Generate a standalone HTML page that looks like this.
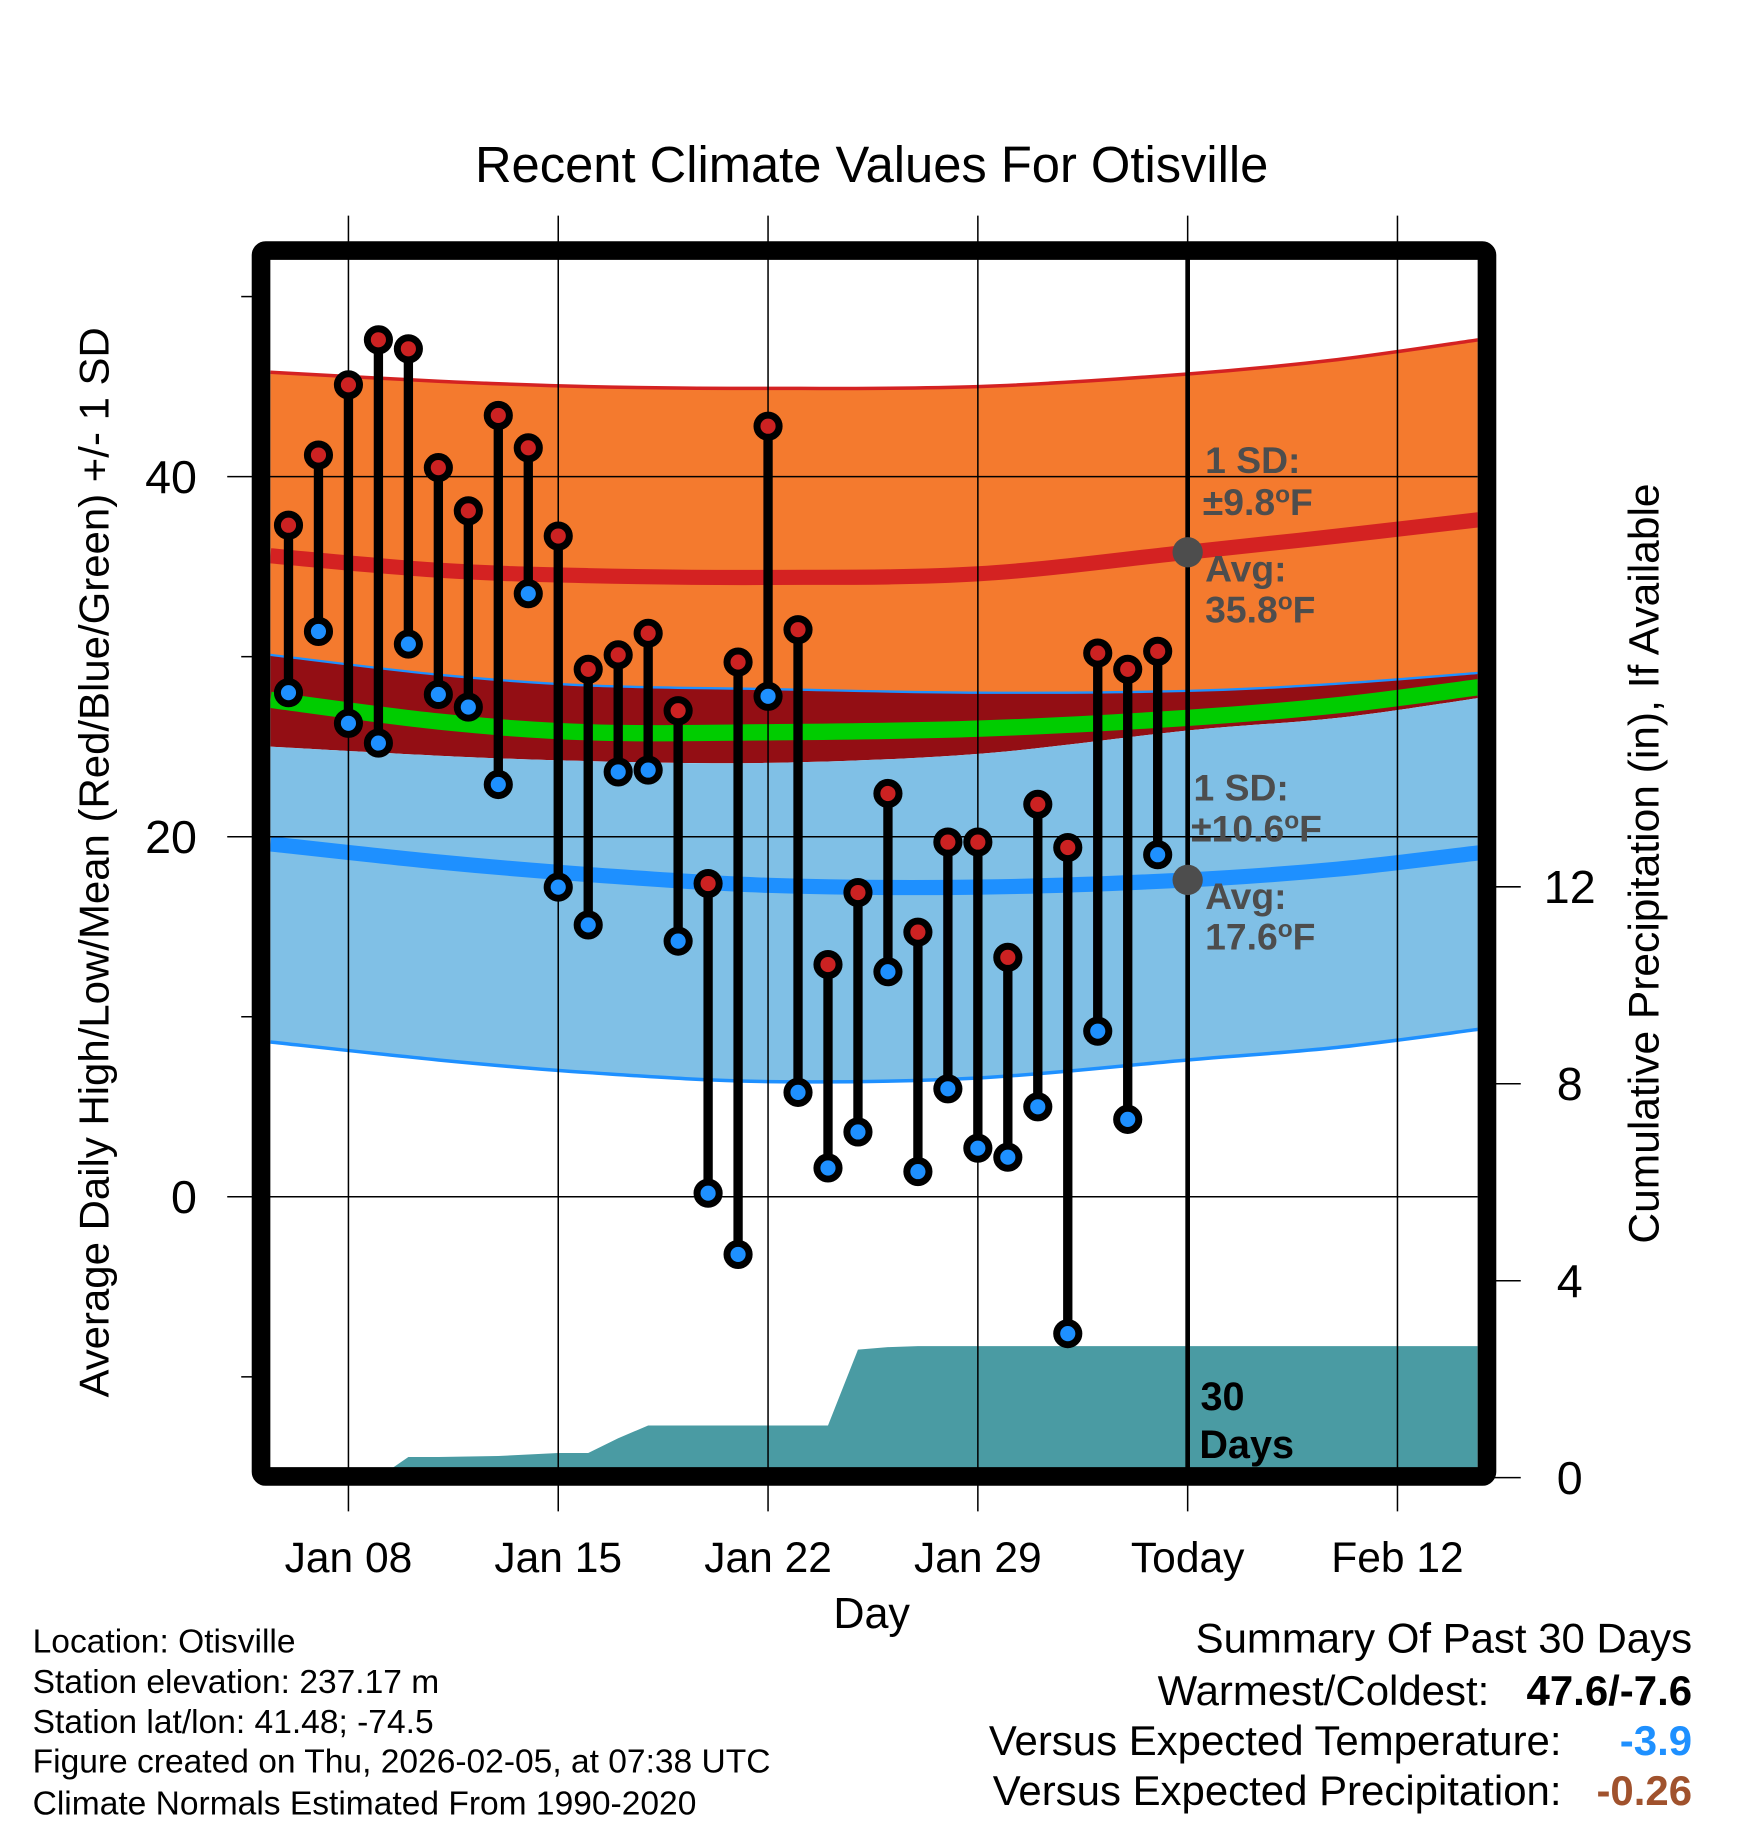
<!DOCTYPE html>
<html><head><meta charset="utf-8"><style>
html,body{margin:0;padding:0;background:#fff;}
svg{display:block;font-family:"Liberation Sans",Arial,sans-serif;}
</style></head><body>
<svg id="chart" width="1748" height="1828" viewBox="0 0 1500 1568.65" xmlns="http://www.w3.org/2000/svg">
<defs><clipPath id="plotclip"><rect x="232" y="222" width="1036" height="1038"/></clipPath></defs>
<rect x="0" y="0" width="1500" height="1569" fill="#fff"/>
<text x="748" y="156" font-size="43.5" text-anchor="middle">Recent Climate Values For Otisville</text>
<g id="bands" clip-path="url(#plotclip)"></g>
<g id="grid"></g>
<g id="marks" clip-path="url(#plotclip)"></g>
<rect x="224" y="215" width="1052" height="1052" fill="none" stroke="#000" stroke-width="16" rx="4"/>
<g id="axes"></g>
<text transform="translate(93,740) rotate(-90)" font-size="36" text-anchor="middle">Average Daily High/Low/Mean (Red/Blue/Green) +/- 1 SD</text>
<text transform="translate(1423,741) rotate(-90)" font-size="36.5" text-anchor="middle">Cumulative Precipitation (in), If Available</text>
<text x="748" y="1397" font-size="37" text-anchor="middle">Day</text>
<g font-size="28.8">
<text x="28" y="1418">Location: Otisville</text>
<text x="28" y="1453">Station elevation: 237.17 m</text>
<text x="28" y="1487">Station lat/lon: 41.48; -74.5</text>
<text x="28" y="1521">Figure created on Thu, 2026-02-05, at 07:38 UTC</text>
<text x="28" y="1557">Climate Normals Estimated From 1990-2020</text>
</g>
<g font-size="36">
<text x="1452" y="1418" text-anchor="end">Summary Of Past 30 Days</text>
<text x="1278" y="1463" text-anchor="end">Warmest/Coldest:</text>
<text x="1452" y="1463" text-anchor="end" font-weight="bold">47.6/-7.6</text>
<text x="1340" y="1506" text-anchor="end">Versus Expected Temperature:</text>
<text x="1452" y="1506" text-anchor="end" font-weight="bold" fill="#1e90ff">-3.9</text>
<text x="1340" y="1549" text-anchor="end">Versus Expected Precipitation:</text>
<text x="1452" y="1549" text-anchor="end" font-weight="bold" fill="#a0522d">-0.26</text>
</g>
</svg>
<script>
// days counted from Jan 08 (= 0)
const dayIdx = [-2,-1,0,1,2,3,4,5,6,7,8,9,10,11,12,13,14,15,16,17,18,19,20,21,22,23,24,25,26,27];
const highs = [37.3,41.2,45.1,47.6,47.1,40.5,38.1,43.4,41.6,36.7,29.3,30.1,31.3,27.0,17.4,29.7,42.8,31.5,12.9,16.9,22.4,14.7,19.7,19.7,13.3,21.8,19.4,30.2,29.3,30.3];
const lows = [28.0,31.4,26.3,25.2,30.7,27.9,27.2,22.9,33.5,17.2,15.1,23.6,23.7,14.2,0.2,-3.2,27.8,5.8,1.6,3.6,12.5,1.4,6.0,2.7,2.2,5.0,-7.6,9.2,4.3,19.0];
const precip = [0,0,0,0,0.42,0.42,0.43,0.44,0.47,0.5,0.5,0.8,1.06,1.06,1.06,1.06,1.06,1.06,1.06,2.6,2.65,2.67,2.67,2.67,2.67,2.67,2.67,2.67,2.67,2.67];
const normDays = [-2.6,3,8,14,21,28,33,37.7];
const highTop = [45.8,45.3,45.0,44.9,45.0,45.7,46.5,47.6];
const highAvg = [35.6,34.8,34.5,34.4,34.6,35.8,36.7,37.6];
const highBot = [30.1,29.0,28.4,28.2,28.0,28.1,28.5,29.1];
const meanAvg = [27.6,26.4,25.8,25.8,26.0,26.6,27.3,28.3];
const lowTop = [25.0,24.5,24.2,24.1,24.6,25.9,26.6,27.7];
const lowAvg = [19.6,18.6,17.9,17.3,17.2,17.6,18.2,19.1];
const lowBot = [8.6,7.6,6.9,6.4,6.6,7.6,8.3,9.3];
const xTickDays = [0,7,14,21,28,35];
const xTickLabels = ["Jan 08","Jan 15","Jan 22","Jan 29","Today","Feb 12"];
const yTicks = [40,20,0];
const yMinor = [50,30,10,-10];
const pTicks = [0,4,8,12];
const todayDay = 28;
const todayHighAvg = 35.8, todayLowAvg = 17.6;

const NS="http://www.w3.org/2000/svg";
const X = d => 299 + 25.72*d;
const Y = t => 1027 - 15.45*t;
const P = p => 1268 - 42.25*p;
function mk(tag, attrs, parent){const e=document.createElementNS(NS,tag);for(const k in attrs)e.setAttribute(k,attrs[k]);parent.appendChild(e);return e;}
const bands=document.getElementById('bands'), grid=document.getElementById('grid'), marks=document.getElementById('marks'), axes=document.getElementById('axes');

function curve(pts){
  let s='';
  for(let i=0;i<pts.length-1;i++){
    const p0=pts[Math.max(0,i-1)],p1=pts[i],p2=pts[i+1],p3=pts[Math.min(pts.length-1,i+2)];
    s+=' C'+(p1[0]+(p2[0]-p0[0])/6)+','+(p1[1]+(p2[1]-p0[1])/6)+' '+(p2[0]-(p3[0]-p1[0])/6)+','+(p2[1]-(p3[1]-p1[1])/6)+' '+p2[0]+','+p2[1];
  }
  return s;
}
function smooth(vals){
  const pts=normDays.map((d,i)=>[X(d),Y(vals[i])]);
  return 'M'+pts[0][0]+','+pts[0][1]+curve(pts);
}
function band(top,bot,fill,name){
  const rv=normDays.slice().reverse();
  const bv=bot.slice().reverse();
  const pts=rv.map((d,i)=>[X(d),Y(bv[i])]);
  const s=smooth(top)+' L'+pts[0][0]+','+pts[0][1]+curve(pts);
  const e=mk('path',{d:s+'Z',fill:fill},bands);
  
  
}
function line(vals,color,w,name){
  const e=mk('path',{d:smooth(vals),fill:'none',stroke:color,'stroke-width':w},bands);
  
  
}
band(highTop,highBot,'#f47a2e','high-sd-band');
band(highBot,lowTop,'#930e14','overlap-band');
band(lowTop,lowBot,'#80c0e6','low-sd-band');
line(highTop,'#d42222',3,'high-sd-top-line');
line(highBot,'#1e90ff',2,'high-sd-bottom-line');
line(lowBot,'#1e90ff',3,'low-sd-bottom-line');
line(meanAvg,'#00cc00',14,'mean-line');
line(highAvg,'#d42222',13,'high-avg-line');
line(lowAvg,'#1e90ff',13,'low-avg-line');

// precipitation area
let pd='M232,'+P(0)+' L232,'+P(precip[0]);
dayIdx.forEach((d,i)=>{pd+=' L'+X(d)+','+P(precip[i]);});
pd+=' L1268,'+P(precip[precip.length-1])+' L1268,'+P(0)+'Z';
const pa=mk('path',{d:pd,fill:'#4a9ba3'},bands);



// grid
xTickDays.forEach((d,i)=>{
  const g=mk('line',{x1:X(d),x2:X(d),y1:185,y2:1297,stroke:'#000','stroke-width':1.3},grid);
  
  
  const t=mk('text',{x:X(d),y:1349,'font-size':36.5,'text-anchor':'middle'},axes);
  t.textContent=xTickLabels[i];
  
  
});
yTicks.forEach(v=>{
  const g=mk('line',{x1:195,x2:1268,y1:Y(v),y2:Y(v),stroke:'#000','stroke-width':1.3},grid);
  
  
  const t=mk('text',{x:169,y:Y(v)+14,'font-size':40,'text-anchor':'end'},axes);
  t.textContent=v;
  
  
});
yMinor.forEach(v=>{
  const g=mk('line',{x1:207,x2:220,y1:Y(v),y2:Y(v),stroke:'#000','stroke-width':1.3},axes);
  
  
});
pTicks.forEach(v=>{
  const g=mk('line',{x1:1280,x2:1305,y1:P(v),y2:P(v),stroke:'#000','stroke-width':1.3},axes);
  
  
  const t=mk('text',{x:1347,y:P(v)+14,'font-size':40,'text-anchor':'middle'},axes);
  t.textContent=v;
  
  
});

// today line
const tl=mk('line',{x1:X(todayDay),x2:X(todayDay),y1:222,y2:1262,stroke:'#000','stroke-width':4},marks);



// daily stems & dots
dayIdx.forEach((d,i)=>{
  const s=mk('line',{x1:X(d),x2:X(d),y1:Y(highs[i]),y2:Y(lows[i]),stroke:'#000','stroke-width':8},marks);
  
  
});
dayIdx.forEach((d,i)=>{
  const h=mk('circle',{cx:X(d),cy:Y(highs[i]),r:9.5,fill:'#cc2222',stroke:'#000','stroke-width':6},marks);
  
  
  const l=mk('circle',{cx:X(d),cy:Y(lows[i]),r:9.5,fill:'#1e90ff',stroke:'#000','stroke-width':6},marks);
  
  
});
[todayHighAvg,todayLowAvg].forEach(v=>{
  const c=mk('circle',{cx:X(todayDay),cy:Y(v),r:13,fill:'#4d4d4d'},marks);
  
  
});
function lab(x,y,txt,sup,name){
  const t=mk('text',{x:x,y:y,'font-size':32,'font-weight':'bold',fill:'#4d4d4d'},marks);
  
  
  if(sup){
    const a=mk('tspan',{},t);a.textContent=txt;
    const b=mk('tspan',{dy:-11,'font-size':21},t);b.textContent='o';
    const c=mk('tspan',{dy:11},t);c.textContent='F';
  } else t.textContent=txt;
}
const tx=X(todayDay);
lab(tx+15,406,'1 SD:',false,'high-sd-label');
lab(tx+13,442,'±9.8',true,'high-sd-value');
lab(tx+15,499,'Avg:',false,'high-avg-label');
lab(tx+15,534,(todayHighAvg).toFixed(1),true,'high-avg-value');
lab(tx+5,687,'1 SD:',false,'low-sd-label');
lab(tx+3,722,'±10.6',true,'low-sd-value');
lab(tx+15,780,'Avg:',false,'low-avg-label');
lab(tx+15,815,(todayLowAvg).toFixed(1),true,'low-avg-value');
const d1=mk('text',{x:tx+11,y:1210,'font-size':34,'font-weight':'bold'},marks);
d1.textContent='30';


const d2=mk('text',{x:tx+10,y:1251,'font-size':34,'font-weight':'bold'},marks);
d2.textContent='Days';


</script>
</body></html>
